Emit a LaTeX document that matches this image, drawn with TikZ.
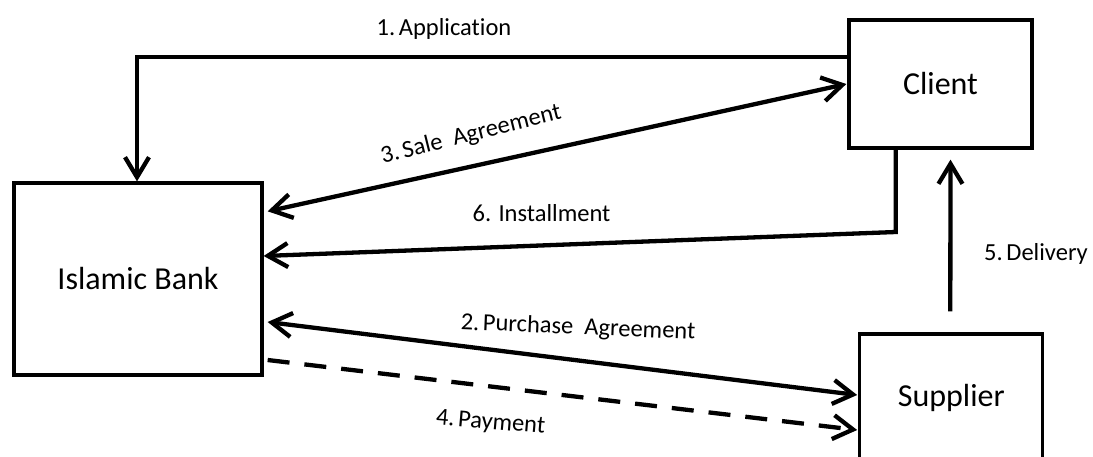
\documentclass[tikz,border=0pt]{standalone}
\usepackage{fontspec}
\setmainfont[Ligatures=NoCommon]{Carlito}
\usetikzlibrary{arrows.meta}
\tikzstyle{party}=[rectangle, draw, line width=3.3pt, inner sep=0pt, font=\fontsize{32}{38}\selectfont]
\tikzstyle{flow}=[line width=4.3pt]
\tikzstyle{lbl}=[inner sep=0pt, font=\fontsize{24.5}{29}\selectfont]

\begin{document}
\begin{tikzpicture}[x=1pt, y=-1pt, >={Straight Barb[length=20pt, width=24pt]}]
                    \useasboundingbox (0,0) rectangle (1093,456);
                    \node[party, minimum width=248pt, minimum height=192pt] (bank)     at (138,   279) {Islamic Bank};
                    \node[party, minimum width=183pt, minimum height=128pt] (client)   at (940.5, 84)  {Client};
                    \node[party, minimum width=183pt, minimum height=128pt] (supplier) at (951.3, 398) {Supplier};
                    \coordinate (app)  at (137,   57.3);
                    \coordinate (inst) at (895.7, 232);
                    \draw[flow, ->]  (client.west |- app) -- (app) -- (app |- bank.north);
                    \draw[flow, <->] ([xshift=4pt, yshift=-30pt]bank.north east) -- ([xshift=-1pt]client.west);
                    \draw[flow, ->]  (inst |- client.south) -- (inst) -- ([yshift=23pt]bank.east);
                    \draw[flow, <->] ([xshift=4pt, yshift=-43pt]bank.east) -- ([xshift=-1pt, yshift=3pt]supplier.west);
                    \draw[flow, ->, dash pattern=on 22pt off 15pt] ([xshift=4pt, yshift=-81pt]bank.east) -- ([xshift=-1pt, yshift=-32pt]supplier.west);
                    \draw[flow, ->]  ([xshift=-1pt, yshift=21pt]supplier.north) -- ([xshift=10pt, yshift=-10pt]client.south);
                    \node[lbl] (l1) at (444,   29)  {1.\hspace{.15em}Application};
                    \node[lbl, rotate=14] (l3) at (471, 135) {3.\hspace{.15em}Sale\hspace{.45em}Agreement};
                    \node[lbl] (l6) at (541.5, 213) {6. Installment};
                    \node[lbl, rotate=-2.4] (l2) at (578, 328) {2.\hspace{.15em}Purchase\hspace{.45em}Agreement};
                    \node[lbl, rotate=-5] (l4) at (490.5, 423) {4.\hspace{.15em}Payment};
                    \node[lbl] (l5) at (1036,  254) {5.\hspace{.15em}Delivery};
                \end{tikzpicture}
\end{document}
